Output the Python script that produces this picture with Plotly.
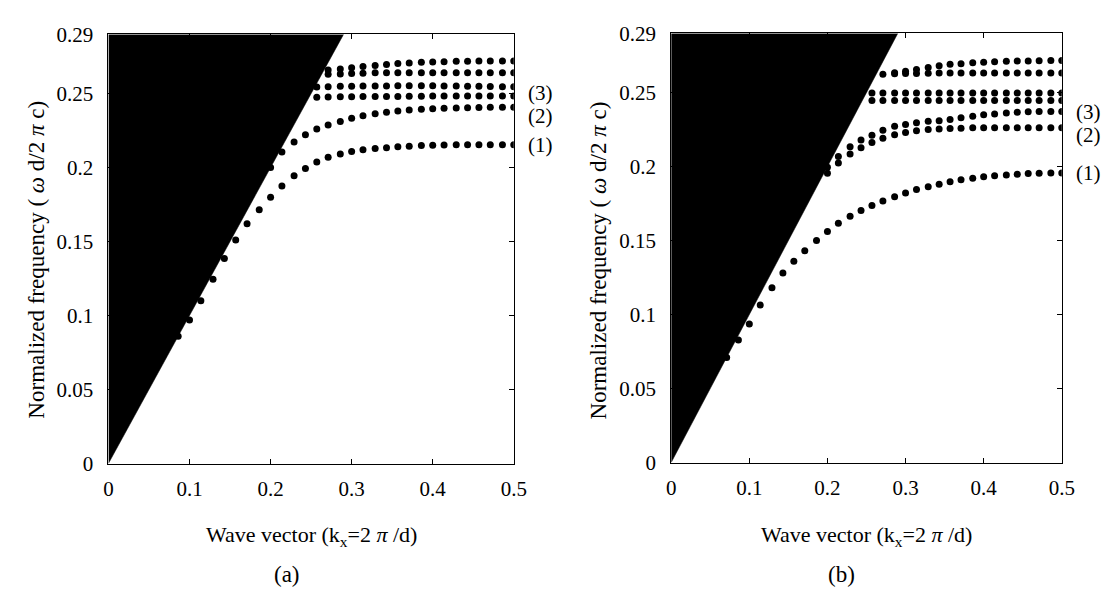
import plotly.graph_objects as go

W, H = 1115, 600

# ---- shared wave-vector grid (k_x in units of 2*pi/d), index 5..35 ----
K_GRID = [0.071, 0.086, 0.100, 0.114, 0.129, 0.143, 0.157, 0.171, 0.186, 0.200,
          0.214, 0.229, 0.243, 0.257, 0.271, 0.286, 0.300, 0.314, 0.329, 0.343,
          0.357, 0.371, 0.386, 0.400, 0.414, 0.429, 0.443, 0.457, 0.471, 0.486, 0.500]

def ks(start):
    return K_GRID[start - 5:]

# ---- light cone (filled region) ----
cone_k = [0.0, 0.29, 0.0]
cone_w = [0.0, 0.29, 0.29]

# ---- panel (a) bands: normalized frequency ----
a_band1 = [0.086, 0.097, 0.110, 0.1245, 0.1386, 0.151, 0.162, 0.1715, 0.180, 0.1875,
           0.1944, 0.1994, 0.2037, 0.2069, 0.2091, 0.2108, 0.2121, 0.2129, 0.2134, 0.2140,
           0.2144, 0.2149, 0.2151, 0.2153, 0.2154, 0.2155, 0.2155, 0.2155, 0.2155, 0.2155]
a_band2 = [0.200, 0.2105, 0.2172, 0.2222, 0.2260, 0.2288, 0.2312, 0.2333, 0.2350, 0.2363,
           0.2374, 0.2382, 0.2389, 0.2394, 0.2398, 0.2401, 0.2403, 0.2405, 0.2406, 0.2407,
           0.2407, 0.2407]
a_band3_lo = [0.2475, 0.2477, 0.2478, 0.2479, 0.2480, 0.2480, 0.2481, 0.2481, 0.2482, 0.2482,
              0.2483, 0.2483, 0.2483, 0.2483, 0.2483, 0.2483, 0.2483, 0.2483]
a_band3_hi = [0.2545, 0.2547, 0.2549, 0.2550, 0.2551, 0.2552, 0.2552, 0.2553, 0.2553, 0.2553,
              0.2553, 0.2552, 0.2551, 0.2550, 0.2549, 0.2548, 0.2547, 0.2547]
a_band4 = [0.2625, 0.2630, 0.2633, 0.2636, 0.2638, 0.2640, 0.2640, 0.2640, 0.2640, 0.2640,
           0.2640, 0.2640, 0.2640, 0.2640, 0.2640, 0.2640, 0.2640, 0.2640]
a_band5 = [0.2655, 0.2660, 0.2667, 0.2675, 0.2683, 0.2690, 0.2697, 0.2703, 0.2707, 0.2711,
           0.2714, 0.2716, 0.2718, 0.2719, 0.2720, 0.2720, 0.2720, 0.2720]
a_starts = [6, 14, 18, 18, 18, 18]

# ---- panel (b) bands ----
b_band1 = [0.071, 0.0828, 0.0936, 0.1064, 0.1181, 0.1281, 0.1361, 0.1432, 0.150, 0.1562,
           0.1617, 0.1665, 0.1703, 0.1737, 0.1768, 0.1797, 0.1822, 0.1845, 0.1864, 0.1881,
           0.1897, 0.1911, 0.1922, 0.1931, 0.1938, 0.1944, 0.1949, 0.1953, 0.1955, 0.1957, 0.1957]
b_band2_lo = [0.1955, 0.2025, 0.2085, 0.2128, 0.2163, 0.2192, 0.2215, 0.2231, 0.2242, 0.2250,
              0.2255, 0.2258, 0.2260, 0.2262, 0.2262, 0.2262, 0.2262, 0.2262, 0.2262, 0.2262,
              0.2262, 0.2262]
b_band2_hi = [0.1995, 0.2068, 0.2135, 0.2180, 0.2212, 0.2245, 0.2272, 0.2285, 0.2296, 0.2306,
              0.2310, 0.2319, 0.2330, 0.2340, 0.2350, 0.2356, 0.2362, 0.2367, 0.2370, 0.2372,
              0.2372, 0.2372]
b_band3_lo = [0.2447] * 18
b_band3_hi = [0.2497] * 18
b_band4 = [0.2625, 0.2627, 0.2629, 0.2630, 0.2631, 0.2632, 0.2632, 0.2632, 0.2632, 0.2632,
           0.2632, 0.2632, 0.2632, 0.2632, 0.2632, 0.2632, 0.2632]
b_band5 = [0.2635, 0.2645, 0.2657, 0.2670, 0.2681, 0.2691, 0.2696, 0.2702, 0.2706, 0.2709,
           0.2712, 0.2713, 0.2714, 0.2716, 0.2717, 0.2717]
b_starts = [5, 14, 14, 18, 18, 19, 20]

# ---- text ----
x_ticks = [0, 0.1, 0.2, 0.3, 0.4, 0.5]
x_tick_text = ["0", "0.1", "0.2", "0.3", "0.4", "0.5"]
y_ticks = [0, 0.05, 0.1, 0.15, 0.2, 0.25, 0.29]
y_tick_text = ["0", "0.05", "0.1", "0.15", "0.2", "0.25", "0.29"]
band_labels = ["(1)", "(2)", "(3)"]
a_label_y = [0.2155, 0.2350, 0.2505]
b_label_y = [0.1957, 0.2213, 0.2372]
panel_names = ["(a)", "(b)"]
xtitle = "Wave vector (k<sub>x</sub>=2 <i>π</i> /d)"
ytitle = "Normalized frequency ( <i>ω</i> d/2 <i>π</i> c)"

FONT = "Times New Roman"

# ---- layout geometry (pixels) ----
panels = [
    dict(x0=97, x1=509, y0=15, y1=462),
    dict(x0=669, x1=1066, y0=14, y1=461),
]

fig = go.Figure()

def add_panel(idx, bands, starts):
    xa = "x" if idx == 0 else "x2"
    ya = "y" if idx == 0 else "y2"
    fig.add_trace(go.Scatter(x=cone_k, y=cone_w, fill="toself", fillcolor="black",
                             mode="lines", line=dict(color="black", width=0.5),
                             xaxis=xa, yaxis=ya, showlegend=False, hoverinfo="skip"))
    for vals, st in zip(bands, starts):
        fig.add_trace(go.Scatter(x=ks(st), y=vals, mode="markers",
                                 marker=dict(color="black", size=7, line=dict(width=0)),
                                 xaxis=xa, yaxis=ya, showlegend=False, cliponaxis=True))

add_panel(0, [a_band1, a_band2, a_band3_lo, a_band3_hi, a_band4, a_band5], a_starts)
add_panel(1, [b_band1, b_band2_lo, b_band2_hi, b_band3_lo, b_band3_hi, b_band4, b_band5], b_starts)

axis_common = dict(showline=True, linecolor="black", linewidth=1, mirror="allticks",
                   ticks="inside", ticklen=5, tickcolor="black", tickwidth=1,
                   showgrid=False, zeroline=False,
                   tickfont=dict(family=FONT, size=21, color="black"))

layout = dict(width=W, height=H, margin=dict(l=0, r=0, t=0, b=0),
              paper_bgcolor="white", plot_bgcolor="white", showlegend=False,
              font=dict(family=FONT, color="black"))

for i, p in enumerate(panels):
    sx = "" if i == 0 else "2"
    layout["xaxis" + sx] = dict(axis_common, domain=[p["x0"] / W, p["x1"] / W],
                                range=[0, 0.5], tickvals=x_ticks, ticktext=x_tick_text,
                                anchor="y" + sx, ticklabelstandoff=6)
    layout["yaxis" + sx] = dict(axis_common, domain=[1 - p["y1"] / H, 1 - p["y0"] / H],
                                range=[0, 0.29], tickvals=y_ticks, ticktext=y_tick_text,
                                anchor="x" + sx, ticklabelstandoff=10)
fig.update_layout(**layout)

ann = []
for i, (p, labels_y) in enumerate(zip(panels, [a_label_y, b_label_y])):
    sx = "" if i == 0 else "2"
    for t, yv in zip(band_labels, labels_y):
        ann.append(dict(x=0.5, y=yv, xref="x" + sx, yref="y" + sx, text=t, showarrow=False,
                        xanchor="left", yanchor="middle", xshift=12,
                        font=dict(family=FONT, size=21, color="black")))
    cx = (p["x0"] + p["x1"]) / 2
    ann.append(dict(x=cx / W, y=1 - 537 / H, xref="paper", yref="paper", text=xtitle,
                    showarrow=False, xanchor="center", yanchor="middle",
                    font=dict(family=FONT, size=22, color="black")))
    ann.append(dict(x=(cx - 25) / W, y=1 - 578 / H, xref="paper", yref="paper",
                    text=panel_names[i], showarrow=False, xanchor="center", yanchor="middle",
                    font=dict(family=FONT, size=23, color="black")))
    ann.append(dict(x=(p["x0"] - 74) / W, y=1 - 250 / H, xref="paper", yref="paper",
                    text=ytitle, textangle=-90, showarrow=False,
                    xanchor="center", yanchor="middle",
                    font=dict(family=FONT, size=23, color="black")))
fig.update_layout(annotations=ann)

fig.write_html("out.html")
